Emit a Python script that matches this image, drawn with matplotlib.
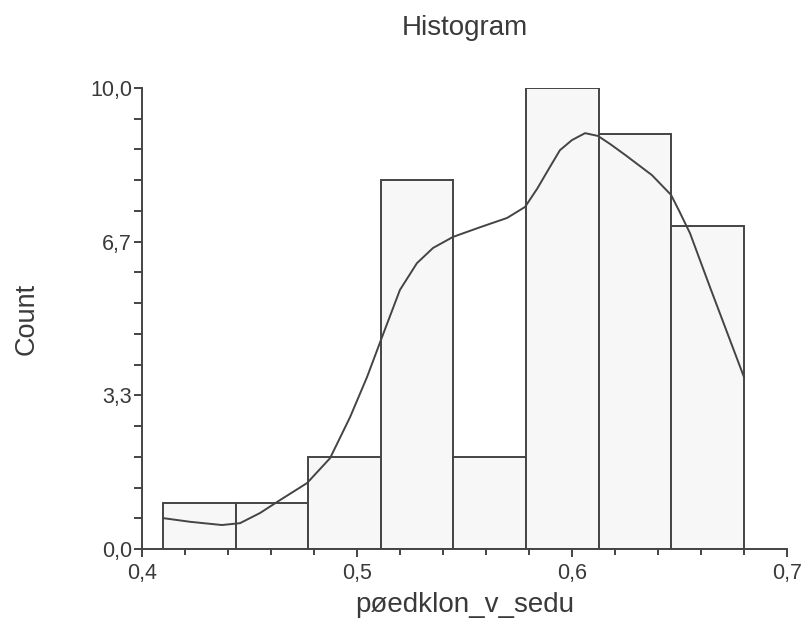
import matplotlib
matplotlib.use('Agg')
import matplotlib.pyplot as plt
from matplotlib.ticker import FixedLocator, MultipleLocator

plt.rcParams['font.family'] = ['Liberation Sans', 'DejaVu Sans']

# Histogram data
bin_edges = [0.41, 0.44375, 0.4775, 0.51125, 0.545, 0.57875, 0.6125, 0.64625, 0.68]
counts = [1, 1, 2, 8, 2, 10, 9, 7]

# Smooth density curve (scaled to counts)
curve_x = [0.4099, 0.4225, 0.4373, 0.4457, 0.4550, 0.4643, 0.4769, 0.4876, 0.4969,
           0.5048, 0.5118, 0.5201, 0.5280, 0.5355, 0.5448, 0.5574, 0.5699, 0.5783,
           0.5840, 0.5899, 0.5945, 0.6001, 0.6062, 0.6122, 0.6180, 0.6248, 0.6373,
           0.6462, 0.6500, 0.6550, 0.6643, 0.6801]
curve_y = [0.67, 0.59, 0.52, 0.56, 0.78, 1.06, 1.43, 1.97, 2.86,
           3.73, 4.60, 5.62, 6.20, 6.53, 6.77, 6.98, 7.18, 7.42,
           7.82, 8.29, 8.65, 8.87, 9.02, 8.96, 8.78, 8.55, 8.11,
           7.68, 7.33, 6.85, 5.68, 3.73]

y_ticks = [0.0, 10 / 3, 20 / 3, 10.0]
y_tick_labels = ['0,0', '3,3', '6,7', '10,0']
x_ticks = [0.4, 0.5, 0.6, 0.7]
x_tick_labels = ['0,4', '0,5', '0,6', '0,7']

ink = '#444444'
text_color = '#3a3a3a'

fig = plt.figure(figsize=(8.07, 6.28), dpi=100)
ax = fig.add_axes([0.1756, 0.1258, 0.7993, 0.7341])

widths = [bin_edges[i + 1] - bin_edges[i] for i in range(len(counts))]
ax.bar(bin_edges[:-1], counts, width=widths, align='edge',
       color='#f7f7f7', edgecolor=ink, linewidth=1.4, zorder=2)
ax.plot(curve_x, curve_y, color=ink, linewidth=1.4, zorder=3)

ax.set_xlim(0.4, 0.7)
ax.set_ylim(0, 10)

ax.yaxis.set_major_locator(FixedLocator(y_ticks))
ax.set_yticklabels(y_tick_labels)
ax.yaxis.set_minor_locator(MultipleLocator(10 / 15))
ax.xaxis.set_major_locator(FixedLocator(x_ticks))
ax.set_xticklabels(x_tick_labels)
ax.xaxis.set_minor_locator(MultipleLocator(0.02))

for side in ['top', 'right']:
    ax.spines[side].set_visible(False)
for side in ['left', 'bottom']:
    ax.spines[side].set_color(ink)
    ax.spines[side].set_linewidth(1.4)

ax.tick_params(axis='both', which='both', direction='out', color=ink, width=1.4,
               labelcolor=text_color, labelsize=15.5)
ax.tick_params(axis='y', which='major', length=6, pad=1)
ax.tick_params(axis='y', which='minor', length=6)
ax.tick_params(axis='x', which='major', length=6, pad=4)
ax.tick_params(axis='x', which='minor', length=4)

ax.set_xlabel('pøedklon_v_sedu', fontsize=20, color=text_color, labelpad=6)
ax.set_ylabel('Count', fontsize=19.5, color=text_color)
ax.yaxis.set_label_coords(-0.178, 0.5)
ax.yaxis.label.set_va('center')
fig.text(0.576, 0.955, 'Histogram', fontsize=20, color=text_color,
         ha='center', va='center')

fig.savefig('out.png', dpi=100)
